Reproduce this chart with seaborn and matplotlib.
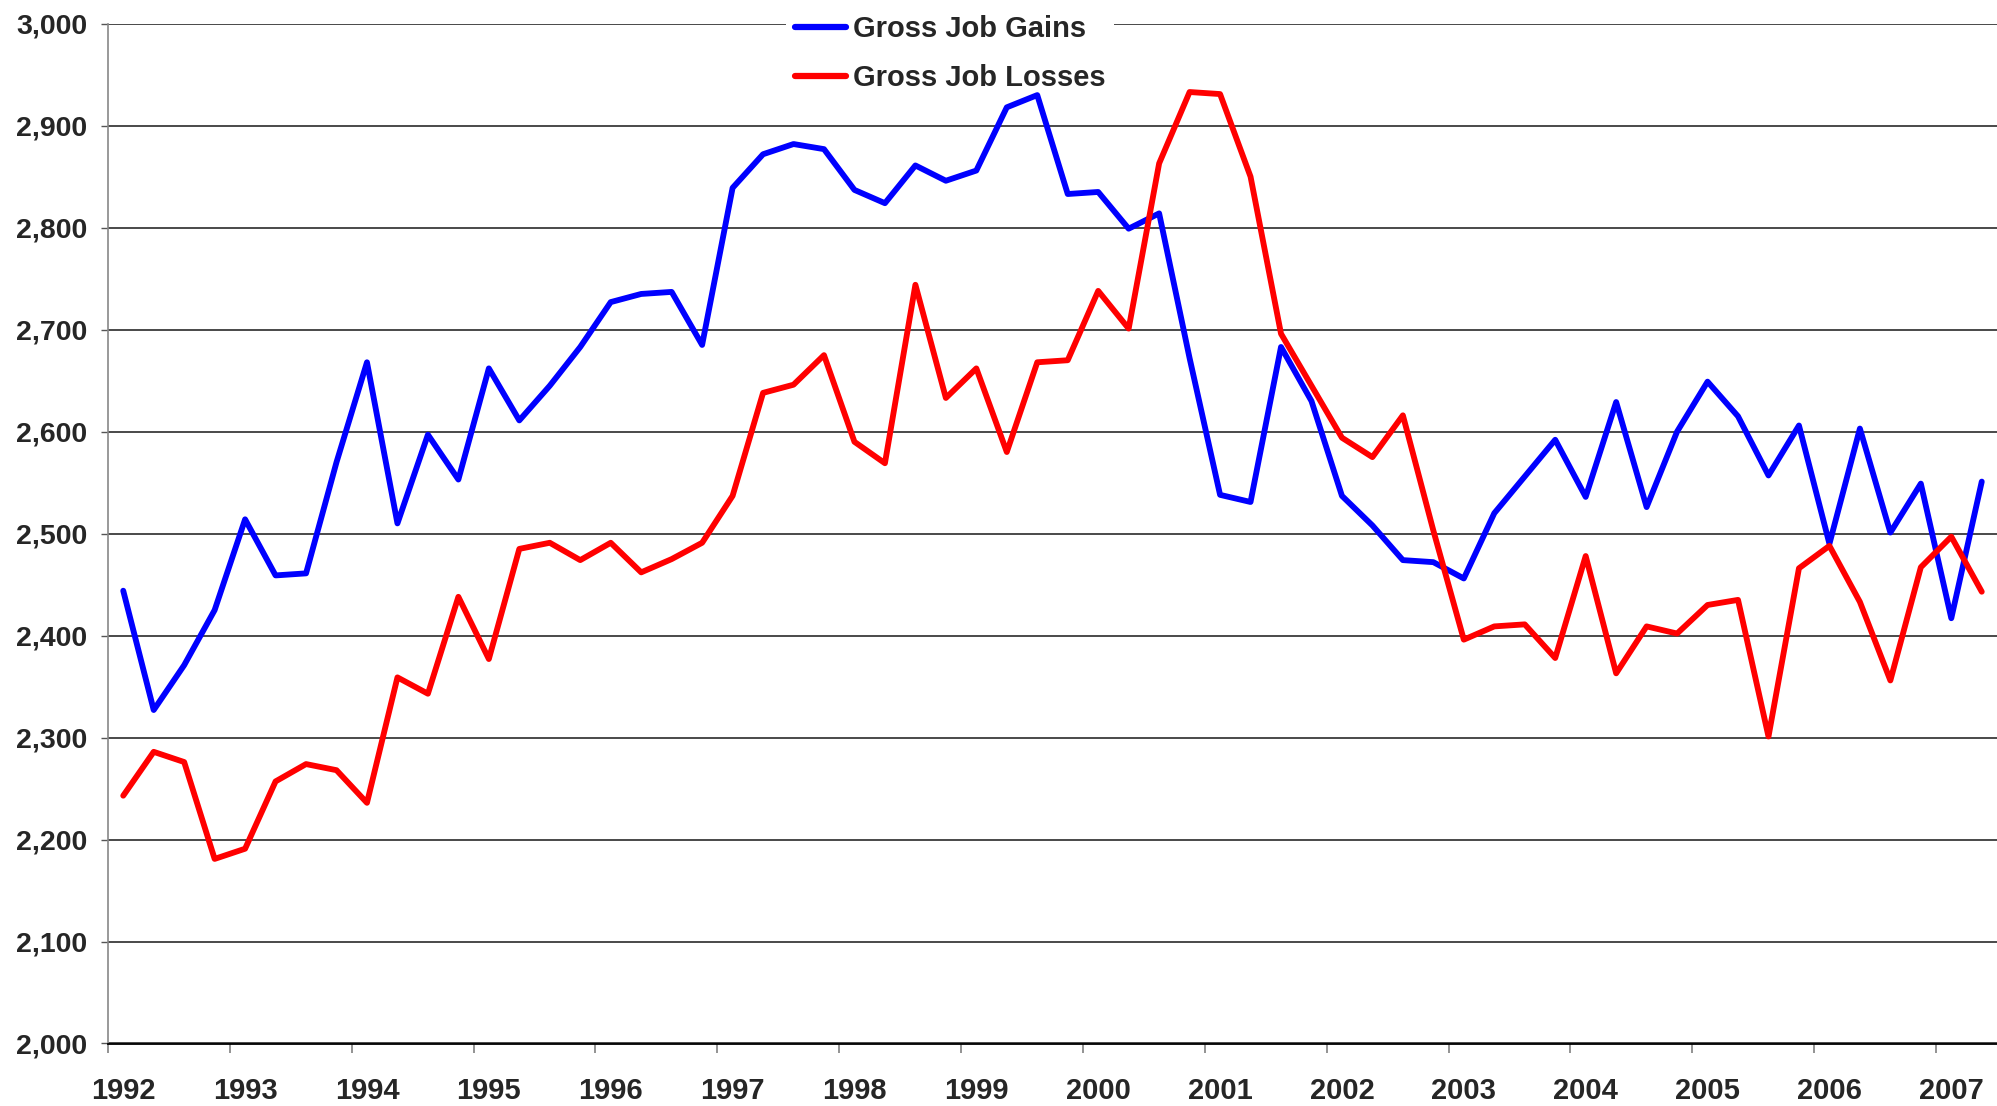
import numpy as np
import pandas as pd
import matplotlib
matplotlib.use("Agg")
import matplotlib.pyplot as plt
import seaborn as sns

# ---- data (thousands, quarterly, first point labelled 1992) ----
year_labels = [str(y) for y in range(1992, 2008)]
gains = [2444, 2327, 2371, 2425, 2514, 2459, 2461, 2570, 2668, 2510,
         2597, 2553, 2662, 2611, 2645, 2683, 2727, 2735, 2737, 2685,
         2839, 2872, 2882, 2877, 2837, 2824, 2861, 2846, 2856, 2918,
         2930, 2833, 2835, 2799, 2814, 2672, 2538, 2531, 2683, 2630,
         2537, 2508, 2474, 2472, 2456, 2520, 2556, 2592, 2536, 2629,
         2526, 2600, 2649, 2615, 2557, 2606, 2490, 2603, 2501, 2549,
         2417, 2551]
losses = [2243, 2286, 2276, 2181, 2191, 2257, 2274, 2268, 2236, 2359,
          2343, 2438, 2377, 2485, 2491, 2474, 2491, 2462, 2475, 2491,
          2537, 2638, 2646, 2675, 2590, 2569, 2744, 2633, 2662, 2580,
          2668, 2670, 2738, 2701, 2863, 2933, 2931, 2850, 2696, 2645,
          2594, 2575, 2616, 2503, 2396, 2409, 2411, 2378, 2478, 2363,
          2409, 2402, 2430, 2435, 2301, 2466, 2488, 2433, 2356, 2467,
          2497, 2443]
series_names = ["Gross Job Gains", "Gross Job Losses"]
series_colors = ["#0000FF", "#FF0000"]

n = len(gains)
df = pd.DataFrame({
    "idx": list(range(n)) * 2,
    "value": gains + losses,
    "series": [series_names[0]] * n + [series_names[1]] * n,
})

sns.set_style("white")
plt.rcParams["font.family"] = ["Liberation Sans", "DejaVu Sans"]
plt.rcParams["font.weight"] = "bold"

W, H = 1997, 1106
fig = plt.figure(figsize=(W / 100, H / 100), dpi=100)
left_px, top_px, bottom_px = 108, 23.7, 1043.5
ax = fig.add_axes([left_px / W, 1 - bottom_px / H, 1 - left_px / W, (bottom_px - top_px) / H])

sns.lineplot(data=df, x="idx", y="value", hue="series",
             palette=dict(zip(series_names, series_colors)),
             linewidth=4.2, ax=ax, sort=False)

ax.set_xlim(-0.5, n - 0.5)
ax.set_ylim(2000, 3000)
ax.set_xlabel("")
ax.set_ylabel("")

# y axis
yt = np.arange(2000, 3001, 100)
ax.set_yticks(yt)
ax.set_yticklabels([f"{v:,}" for v in yt], fontsize=20.5, fontweight="bold")
ax.tick_params(axis="y", direction="out", length=5, width=1, color="#555555", pad=10, left=True)
ax.yaxis.grid(True, color="#3a3a3a", linewidth=1.3)
ax.xaxis.grid(False)
ax.set_axisbelow(True)

# x axis: ticks at year boundaries, labels centred on the first quarter of each year
ax.set_xticks(np.arange(-0.5, n, 4))
ax.set_xticklabels([])
ax.set_xticks(np.arange(0, n, 4), minor=True)
ax.set_xticklabels(year_labels, minor=True, fontsize=21, fontweight="bold")
ax.tick_params(axis="x", which="major", direction="out", length=6.5, width=1.2, color="#808080", bottom=True)
ax.tick_params(axis="x", which="minor", length=0, pad=24, bottom=True)

for s in ["top", "right"]:
    ax.spines[s].set_visible(False)
ax.spines["left"].set_color("#888888")
ax.spines["left"].set_linewidth(1.2)
ax.spines["bottom"].set_color("#000000")
ax.spines["bottom"].set_linewidth(1.3)

handles, labels = ax.get_legend_handles_labels()
leg = ax.legend(handles, labels, loc="upper left",
                bbox_to_anchor=(786 / W, 1 - 6.5 / H), bbox_transform=fig.transFigure,
                frameon=True, fancybox=False, facecolor="white", edgecolor="none", framealpha=1,
                prop={"size": 21, "weight": "bold"},
                handlelength=1.75, handletextpad=0.25, borderpad=0.3,
                labelspacing=0.72, borderaxespad=0)
for line in leg.get_lines():
    line.set_linewidth(4.5)
leg.set_zorder(1.5)

fig.savefig("out.png", dpi=100)
